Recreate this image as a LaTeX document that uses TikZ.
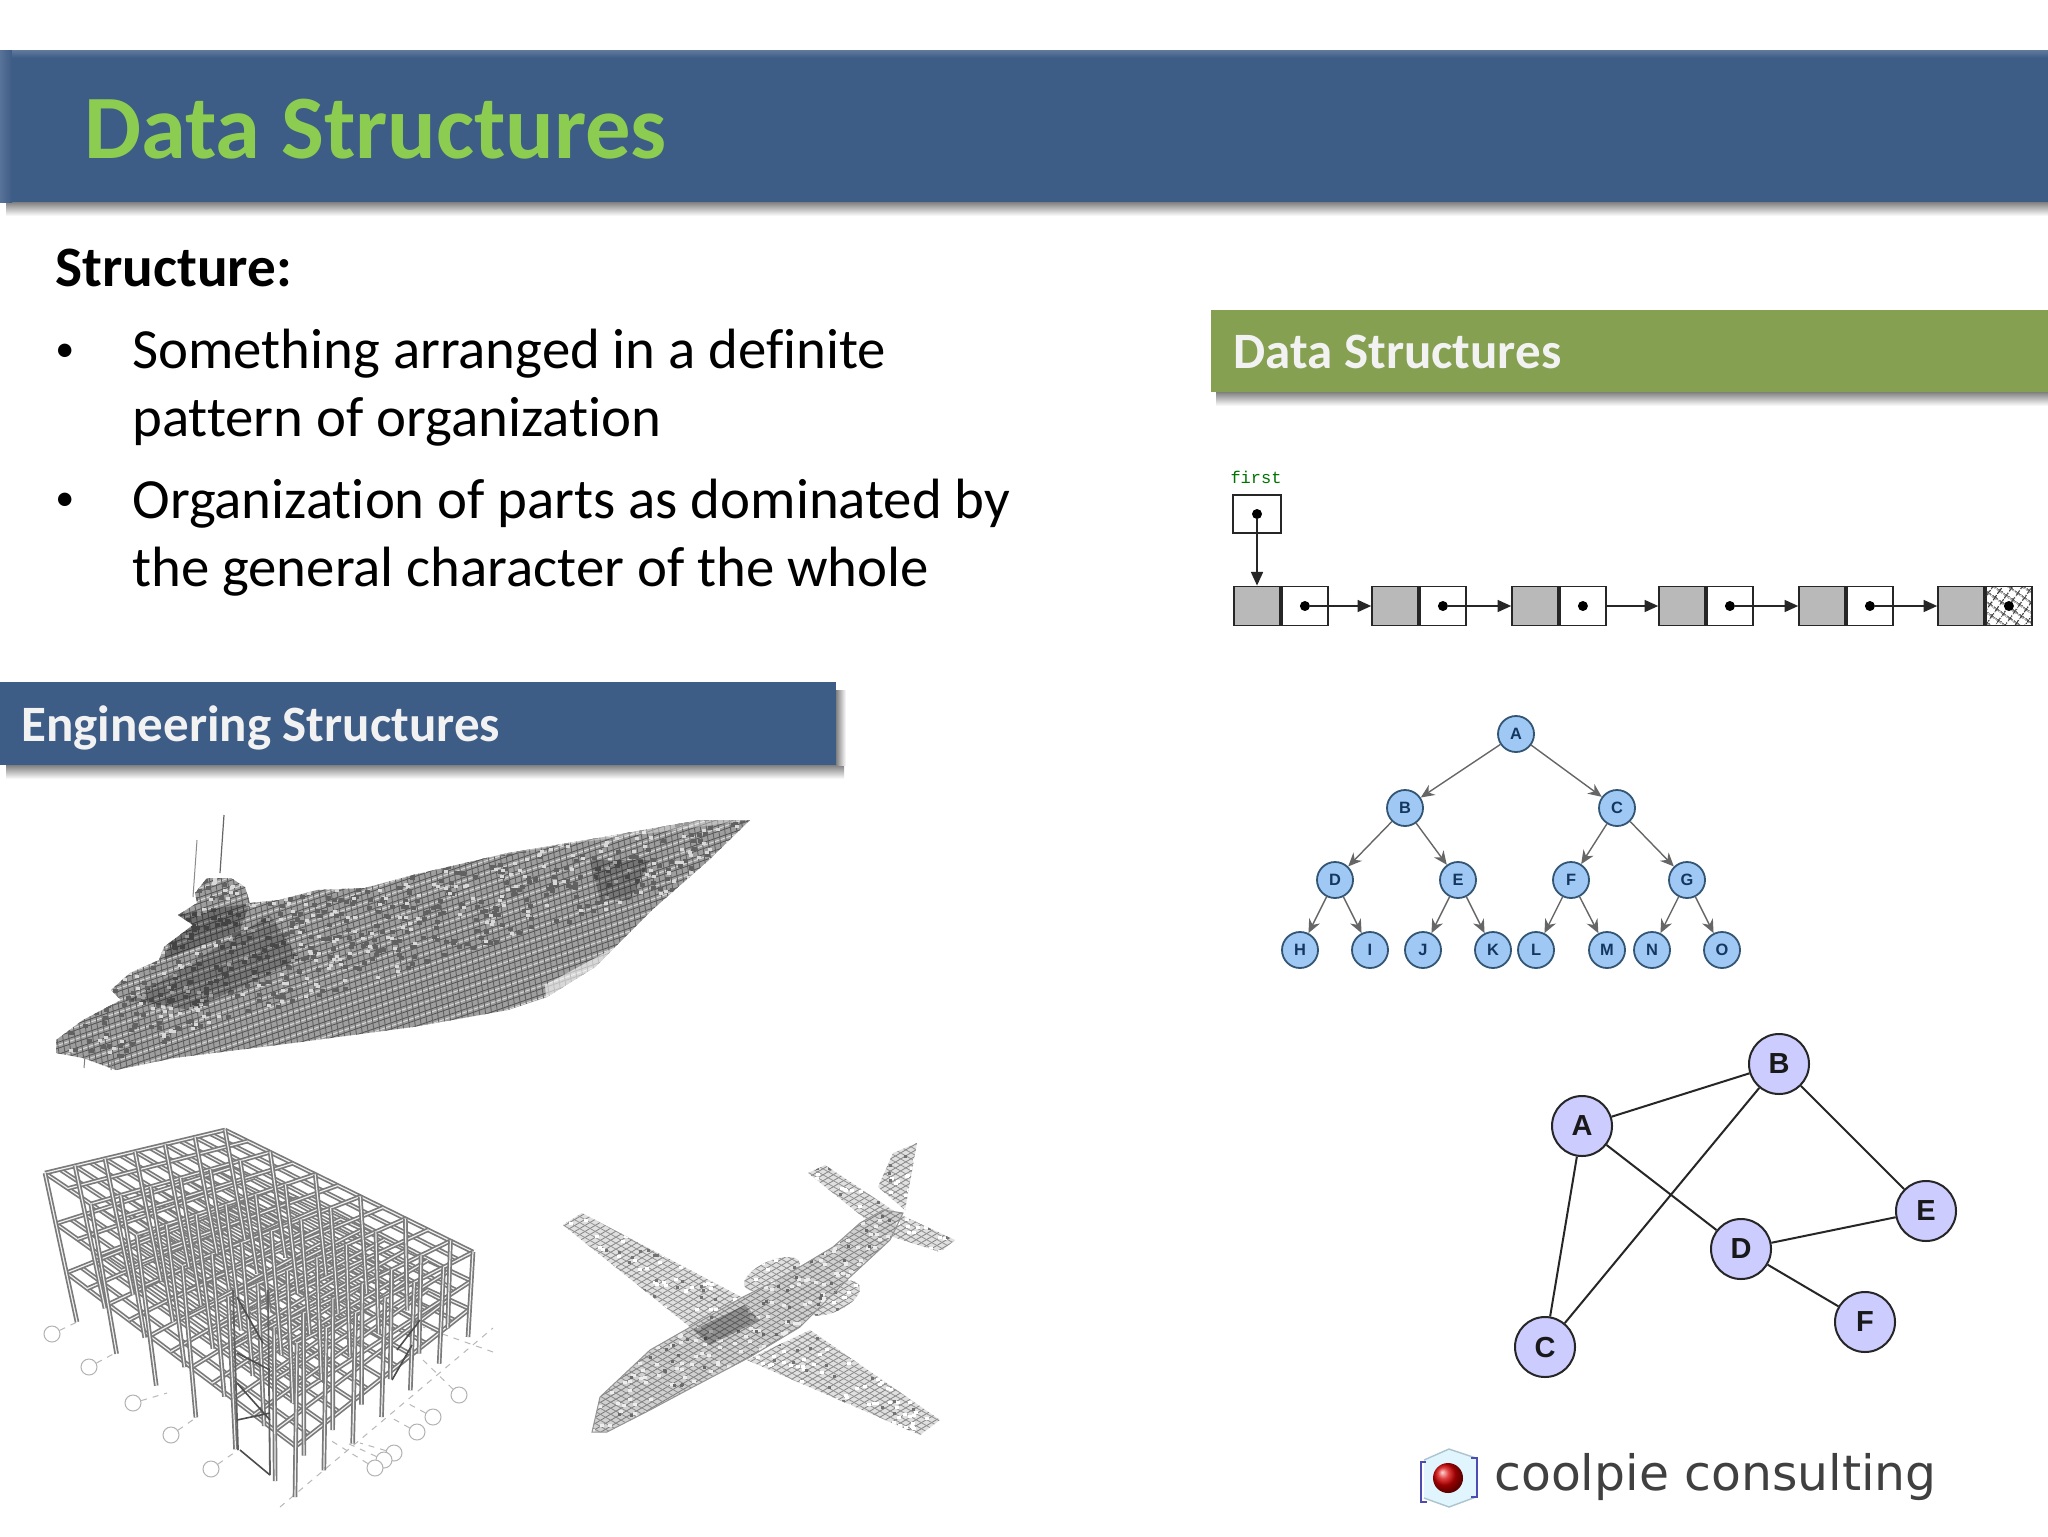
\documentclass[tikz,border=0pt]{standalone}
\usepackage{fontspec}
\usepackage{xcolor}
\setmainfont{Carlito}[Ligatures=CommonOff]
\newfontfamily\arialfont{Liberation Sans}
\newfontfamily\logofont{DejaVu Sans}
\newfontfamily\firstfont{Liberation Mono}
\definecolor{slideblue}{RGB}{61,92,134}
\definecolor{slidegreen}{RGB}{132,160,80}
\definecolor{titlegreen}{RGB}{140,204,80}
\definecolor{treefill}{RGB}{160,200,245}
\definecolor{treeline}{RGB}{50,85,115}
\definecolor{treetext}{RGB}{20,55,95}
\definecolor{graphfill}{RGB}{204,204,255}
\definecolor{cellgrey}{RGB}{185,185,185}
\usetikzlibrary{arrows.meta,positioning,patterns.meta}
\tikzset{
  bar/.style={rectangle,inner sep=0pt,anchor=north west},
  barshadow/.style={top color=black!50,bottom color=white},
  bartext/.style={anchor=base west,inner sep=0pt,text=white!95!black,font=\fontsize{25.5}{26}\selectfont\bfseries},
  body/.style={anchor=base west,inner sep=0pt,font=\fontsize{28.4}{30}\selectfont},
  datacell/.style={draw=black!85,line width=0.9pt,fill=cellgrey,inner sep=0pt,minimum height=19.5pt,minimum width=23pt,anchor=east},
  ptrcell/.style={draw=black!85,line width=0.9pt,fill=white,inner sep=0pt,minimum height=19.5pt,minimum width=23pt,anchor=west},
  ptrdot/.style={circle,fill=black,inner sep=0pt,minimum size=5pt},
  arr/.style={-{Stealth[length=2.4mm,width=2.1mm,inset=0pt]},line width=0.9pt,draw=black!85},
  treenode/.style={circle,draw=treeline,line width=0.9pt,fill=treefill,inner sep=0pt,minimum size=18pt,text=treetext,font=\arialfont\fontsize{8.2}{8}\selectfont\bfseries},
  treearr/.style={-{Stealth[length=2.4mm,width=2.1mm]},line width=0.7pt,draw=black!60},
  graphnode/.style={circle,draw=black!85,line width=1pt,fill=graphfill,inner sep=0pt,minimum size=30pt,text=black!90,font=\arialfont\fontsize{14.5}{15}\selectfont\bfseries},
  graphedge/.style={line width=1pt,draw=black!85},
  beam/.style={line width=0.85pt,draw=black!52,double=black!6,double distance=0.6pt},
  bubble/.style={circle,draw=black!30,line width=0.5pt,fill=white,inner sep=0pt,minimum size=8pt},
  gridline/.style={line width=0.5pt,draw=black!28,dashed},
  declare function={
    fx(\u,\v,\w)=(1-\w)*((1-\u)*(1-\v)*77+\u*(1-\v)*295+\u*\v*468+(1-\u)*\v*245)+\w*((1-\u)*(1-\v)*45+\u*(1-\v)*297+\u*\v*473+(1-\u)*\v*225);
    fy(\u,\v,\w)=(1-\w)*((1-\u)*(1-\v)*1322+\u*(1-\v)*1497+\u*\v*1337+(1-\u)*\v*1240)+\w*((1-\u)*(1-\v)*1173+\u*(1-\v)*1343+\u*\v*1252+(1-\u)*\v*1130);
  },
}
\begin{document}
\begin{tikzpicture}[x=0.5pt,y=-0.5pt]
  \useasboundingbox (0,0) rectangle (2048,1536);
  \fill[white] (0,0) rectangle (2048,1536);
  \shade[barshadow] (6,202) rectangle (2048,216);
  \node[bar,fill=slideblue,minimum width=1024pt,minimum height=75.5pt] (titlebar) at (0,51) {};
  \shade[left color=slideblue!86!white,right color=slideblue] (0,51) rectangle (12,202);
  \shade[top color=slideblue!84!white,bottom color=slideblue] (12,51) rectangle (2048,58);
  \node[anchor=base west,inner sep=0pt,text=titlegreen,font=\fontsize{45.3}{46}\selectfont\bfseries] (title) at (84,158) {Data Structures};
  \node[body,font=\fontsize{28.6}{30}\selectfont\bfseries] (head) at (55,286) {Structure:};
  \node[body,font=\fontsize{19}{20}\selectfont] (dota) at (55,361) {•};
  \node[body] (linea) at (132,368) {Something arranged in a definite};
  \node[body] (lineb) at (132,436) {pattern of organization};
  \node[body,font=\fontsize{19}{20}\selectfont] (dotb) at (55,510) {•};
  \node[body] (linec) at (132,518) {Organization of parts as dominated by};
  \node[body] (lined) at (132,586) {the general character of the whole};
  \shade[barshadow] (1216,392) rectangle (2048,406);
  \node[bar,fill=slidegreen,minimum width=418.5pt,minimum height=41pt] (greenbar) at (1211,310) {};
  \node[bartext] (greentext) at (1233,368) {Data Structures};
  \shade[barshadow] (6,765) rectangle (844,779);
  \shade[left color=black!50,right color=white] (836,690) rectangle (846,765);
  \node[bar,fill=slideblue,minimum width=418pt,minimum height=41.5pt] (engbar) at (0,682) {};
  \node[bartext] (engtext) at (21,741) {Engineering Structures};

  \node[anchor=center,inner sep=0pt,text=green!45!black,font=\firstfont\fontsize{8.5}{9}\selectfont] (firstlabel) at (1256,477) {first};
  \node[ptrcell,anchor=center,minimum width=24pt,minimum height=19pt] (firstbox) at (1257,514) {};
  \node[ptrdot] (firstdot) at (firstbox.center) {};
  \foreach \i/\x in {1/1281,2/1419,3/1559,4/1706,5/1846,6/1985}{
    \node[datacell] (data\i) at (\x,606) {};
    \node[ptrcell] (ptr\i) at (\x,606) {};
  }
  \node[ptrcell,pattern={Hatch[angle=55,distance=4pt,line width=0.55pt]},pattern color=black!80] (last) at (1985,606) {};
  \foreach \i in {1,...,6}{\node[ptrdot] (dot\i) at (ptr\i.center) {};}
  \draw[arr] (firstdot) -- (firstdot |- data1.north);
  \foreach \i/\j in {1/2,2/3,4/5,5/6}{\draw[arr] (dot\i) -- (data\j);}
  \draw[arr] (ptr3.east) -- (data4);

  \foreach \n/\x/\y in {A/1516/734,B/1405/808,C/1617/808,D/1335/880,E/1458/880,F/1571/880,G/1687/880,H/1300/950,I/1370/950,J/1423/950,K/1493/950,L/1536/950,M/1607/950,N/1652/950,O/1722/950}{
    \node[treenode] (t\n) at (\x,\y) {\n};
  }
  \foreach \a/\b in {A/B,A/C,B/D,B/E,C/F,C/G,D/H,D/I,E/J,E/K,F/L,F/M,G/N,G/O}{\draw[treearr] (t\a) -- (t\b);}

  \foreach \n/\x/\y in {A/1582/1126,B/1779/1064,C/1545/1347,D/1741/1249,E/1926/1211,F/1865/1322}{
    \node[graphnode] (g\n) at (\x,\y) {\n};
  }
  \foreach \a/\b in {A/B,A/C,A/D,B/C,B/E,D/E,D/F}{\draw[graphedge] (g\a) -- (g\b);}

  \node[anchor=base west,inner sep=0pt,text=black!75,font=\logofont\fontsize{24.4}{25}\selectfont] (logotext) at (1494,1490) {coolpie consulting};
  \fill[cyan!12] (1424,1460) -- (1449,1449) -- (1476,1458) -- (1476,1497) -- (1449,1507) -- (1424,1498) -- cycle;
  \draw[line width=0.7pt,draw=cyan!30!gray!60] (1424,1460) -- (1449,1449) -- (1476,1458) (1424,1498) -- (1449,1507) -- (1476,1497);
  \draw[line width=1.4pt,draw=blue!40!gray] (1426,1462) -- (1421,1462) -- (1421,1502) -- (1427,1502) (1471,1458) -- (1477,1458) -- (1477,1497) -- (1471,1497);
  \shade[ball color=red!85!black] (1448,1478) circle (15);

  \begin{scope}
    \clip (750,820) -- (700,820) -- (604,837) -- (508,853) -- (413,875) -- (365,888) -- (317,890) -- (279,900) -- (250,903) -- (245,887) -- (231,878) -- (207,878) -- (195,893) -- (197,903) -- (178,915) -- (193,925) -- (164,947) -- (159,960) -- (130,973) -- (111,990) -- (121,1000) -- (83,1020) -- (56,1040) -- (56,1053) -- (83,1058) -- (116,1070) -- (174,1058) -- (293,1043) -- (413,1027) -- (508,1010) -- (547,997) -- (595,967) -- (652,910) -- (709,860) -- cycle;
    \fill[black!38] (0,780) rectangle (800,1100);
    \foreach \y in {800,806,...,1320}{\draw[line width=0.4pt,black!68] (30,\y) -- (780,\y-260);}
    \foreach \y in {803,815,...,1320}{\draw[line width=0.45pt,white!85!black] (30,\y) -- (780,\y-260);}
    \foreach \x in {20,26,...,760}{\draw[line width=0.45pt,black!62] (\x,810) -- (\x+38,1090);}
    \pgfmathsetseed{11}
    \foreach \k in {1,...,1000}{
      \pgfmathsetmacro{\px}{50+700*rnd}
      \pgfmathsetmacro{\py}{1075-0.3*(\px-50)-200*rnd}
      \fill[black!62] (\px,\py) rectangle ++(5,4);
    }
    \foreach \k in {1,...,600}{
      \pgfmathsetmacro{\px}{50+700*rnd}
      \pgfmathsetmacro{\py}{1075-0.3*(\px-50)-200*rnd}
      \fill[black!15] (\px,\py) rectangle ++(4,3);
    }
    \fill[black,opacity=0.25] (130,1000) -- (270,915) -- (300,960) -- (190,1010) -- cycle;
    \fill[black,opacity=0.3] (178,915) -- (250,903) -- (240,930) -- (164,960) -- cycle;
    \fill[white,opacity=0.6] (750,820) -- (680,905) -- (610,950) -- (545,985) -- (547,1010) -- (620,960) -- (720,860) -- cycle;
    \fill[white,opacity=0.35] (750,820) -- (560,845) -- (420,870) -- (430,860) -- (700,805) -- cycle;
    \fill[black,opacity=0.25] (590,860) -- (650,860) -- (630,900) -- (600,900) -- cycle;
  \end{scope}
  \draw[line width=0.6pt,black!60] (224,815) -- (220,873);
  \draw[line width=0.5pt,black!45] (197,840) -- (193,897);
  \draw[line width=0.5pt,black!50] (85,1056) -- (84,1068) (112,1060) -- (111,1070);

  \foreach \x/\y/\fx/\fy in {52/1334/77/1322,89/1367/117/1352,133/1403/167/1393,171/1435/197/1417,211/1469/238/1450}{
    \node[bubble] (bub\x) at (\x,\y) {};
    \coordinate (end\x) at (\fx,\fy);
    \draw[gridline] (bub\x) -- (end\x);
  }
  \foreach \x/\y/\fx/\fy in {459/1395/423/1360,433/1417/407/1403,417/1432/390/1417,394/1453/360/1443,384/1460/347/1443,375/1468/330/1440}{
    \node[bubble] (bub\x) at (\x,\y) {};
    \coordinate (end\x) at (\fx,\fy);
    \draw[gridline] (bub\x) -- (end\x);
  }
  \coordinate (grida) at (280,1507); \coordinate (gridb) at (493,1328);
  \coordinate (gridc) at (493,1352); \coordinate (gridd) at (423,1327);
  \draw[gridline] (grida) -- (gridb);
  \draw[gridline] (gridc) -- (gridd);
  \foreach \j in {12,11,...,0}{
    \foreach \w in {0.33,0.66,1}{
      \draw[beam] ({fx(0,\j/12,\w)},{fy(0,\j/12,\w)}) -- ({fx(1,\j/12,\w)},{fy(1,\j/12,\w)});
    }
  }
  \foreach \i in {0,...,11}{
    \foreach \w in {0.33,0.66,1}{
      \draw[beam] ({fx(\i/11,0,\w)},{fy(\i/11,0,\w)}) -- ({fx(\i/11,1,\w)},{fy(\i/11,1,\w)});
    }
  }
  \foreach \i in {0,2,...,10,11}{
    \foreach \j in {6,5,...,0}{
      \draw[beam] ({fx(\i/11,\j/6,0)},{fy(\i/11,\j/6,0)}) -- ({fx(\i/11,\j/6,1)},{fy(\i/11,\j/6,1)});
    }
  }
  \draw[line width=0.9pt,black!62] (233,1290) -- (238,1450) (268,1290) -- (270,1475);
  \draw[line width=0.8pt,black!70] (237,1297) -- (263,1343) (237,1353) -- (270,1370) (237,1383) -- (270,1420) (237,1420) -- (270,1413) (240,1450) -- (270,1475) (397,1350) -- (420,1320) (392,1380) -- (412,1345);

  \begin{scope}
    \clip (563,1225) -- (582,1213) -- (747,1300) -- (690,1327) -- cycle
      (747,1360) -- (810,1330) -- (940,1420) -- (920,1435) -- cycle
      (808,1173) -- (825,1165) -- (897,1213) -- (955,1240) -- (940,1252) -- (893,1237) -- (863,1217) -- cycle
      (878,1187) -- (893,1153) -- (917,1143) -- (905,1210) -- cycle
      (592,1432) -- (600,1397) -- (650,1350) -- (743,1297) -- (783,1277) -- (833,1247) -- (860,1223) -- (883,1210) -- (903,1213) -- (890,1240) -- (850,1277) -- (800,1327) -- (750,1357) -- (693,1387) -- (650,1410) -- (607,1432) -- cycle
      (772,1274) circle [x radius=30,y radius=13,rotate=24]
      (832,1298) circle [x radius=30,y radius=14,rotate=24];
    \fill[black!12] (540,1130) rectangle (980,1450);
    \foreach \y in {1000,1006,...,1700}{\draw[line width=0.4pt,black!48] (540,\y) -- (980,\y-260);}
    \foreach \y in {900,906,...,1500}{\draw[line width=0.4pt,black!42] (540,\y) -- (980,\y+250);}
    \pgfmathsetseed{5}
    \foreach \k in {1,...,800}{
      \pgfmathsetmacro{\px}{560+400*rnd}
      \pgfmathsetmacro{\py}{1140+300*rnd}
      \fill[white] (\px,\py) rectangle ++(4,3);
    }
    \foreach \k in {1,...,300}{
      \pgfmathsetmacro{\px}{560+400*rnd}
      \pgfmathsetmacro{\py}{1140+300*rnd}
      \fill[black!55] (\px,\py) rectangle ++(3,3);
    }
    \fill[black,opacity=0.3] (693,1330) -- (745,1305) -- (760,1320) -- (710,1345) -- cycle;
  \end{scope}
  \draw[line width=0.5pt,draw=black!42,fill=black,fill opacity=0.07] (592,1432) -- (600,1397) -- (650,1350) -- (743,1297) -- (783,1277) -- (833,1247) -- (860,1223) -- (883,1210) -- (903,1213) -- (890,1240) -- (850,1277) -- (800,1327) -- (750,1357) -- (693,1387) -- (650,1410) -- (607,1432) -- cycle;
\end{tikzpicture}
\end{document}
